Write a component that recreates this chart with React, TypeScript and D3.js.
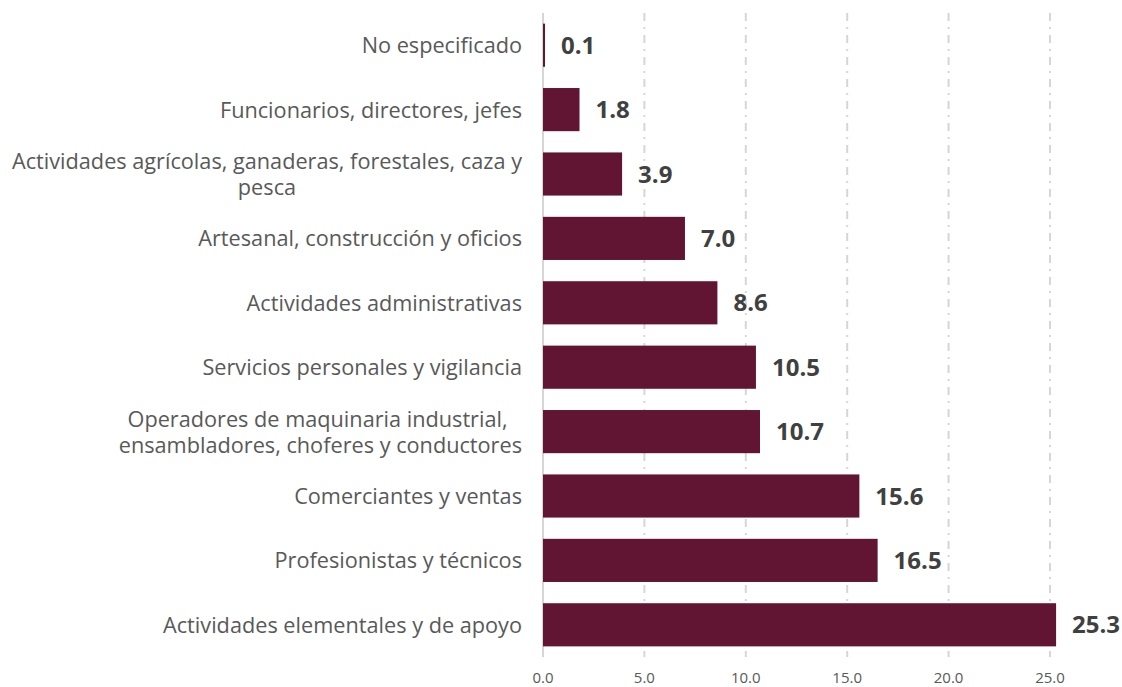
import React, { useEffect, useRef } from 'react';
import * as d3 from 'd3';

// occupation groups, top to bottom (line breaks as in the original)
const categories = [
  'No especificado',
  'Funcionarios, directores, jefes',
  'Actividades agrícolas, ganaderas, forestales, caza y\npesca',
  'Artesanal, construcción y oficios',
  'Actividades administrativas',
  'Servicios personales y vigilancia',
  'Operadores de maquinaria industrial, \nensambladores, choferes y conductores',
  'Comerciantes y ventas',
  'Profesionistas y técnicos',
  'Actividades elementales y de apoyo',
];
const values = [0.1, 1.8, 3.9, 7.0, 8.6, 10.5, 10.7, 15.6, 16.5, 25.3];
const xTicks = [0, 5, 10, 15, 20, 25];

const WIDTH = 1122;
const HEIGHT = 687;
const FONT = '"Open Sans", "Noto Sans", sans-serif';

const App = () => {
  const svgRef = useRef<SVGSVGElement>(null);

  useEffect(() => {
    const svg = d3.select(svgRef.current);
    svg.selectAll('*').remove();

    const x = d3.scaleLinear().domain([0, 25]).range([543, 1050]);
    const y = d3.scaleBand<string>()
      .domain(categories)
      .range([13, 657])
      .paddingInner(0.33)
      .paddingOuter(0.165);

    const data = categories.map((c, i) => ({ c, v: values[i] }));

    // dash-dot grid
    svg.append('g')
      .selectAll('line')
      .data(xTicks.filter(t => t > 0))
      .join('line')
      .attr('x1', d => x(d))
      .attr('x2', d => x(d))
      .attr('y1', 13)
      .attr('y2', 657)
      .attr('stroke', '#d6d6d6')
      .attr('stroke-width', 2)
      .attr('stroke-dasharray', '8,6,2,6');

    // zero line
    svg.append('line')
      .attr('x1', x(0))
      .attr('x2', x(0))
      .attr('y1', 13)
      .attr('y2', 657)
      .attr('stroke', '#d6d6d6')
      .attr('stroke-width', 2);

    svg.append('g')
      .selectAll('rect')
      .data(data)
      .join('rect')
      .attr('x', x(0))
      .attr('y', d => y(d.c)!)
      .attr('width', d => x(d.v) - x(0))
      .attr('height', y.bandwidth())
      .attr('fill', '#621532');

    // value labels
    svg.append('g')
      .selectAll('text')
      .data(data)
      .join('text')
      .attr('x', d => x(d.v) + 16)
      .attr('y', d => y(d.c)! + y.bandwidth() / 2 + 8.6)
      .attr('font-family', FONT)
      .attr('font-size', 24)
      .attr('font-weight', 700)
      .attr('fill', '#404040')
      .text(d => d.v.toFixed(1));

    // category labels
    const right = 522;
    const lineH = 26;
    data.forEach(d => {
      const lines = d.c.split('\n');
      const cy = y(d.c)! + y.bandwidth() / 2;
      const t = svg.append('text')
        .attr('font-family', FONT)
        .attr('font-size', 21.7)
        .attr('fill', '#595959');
      const spans = lines.map((ln, i) =>
        t.append('tspan')
          .attr('y', cy + 8 + (i - (lines.length - 1) / 2) * lineH)
          .text(ln)
      );
      if (lines.length === 1) {
        t.attr('text-anchor', 'end');
        spans[0].attr('x', right);
      } else {
        const w = d3.max(spans, s => (s.node() as SVGTSpanElement).getComputedTextLength()) || 0;
        t.attr('text-anchor', 'middle');
        spans.forEach(s => s.attr('x', right - w / 2));
      }
    });

    // x tick labels
    svg.append('g')
      .selectAll('text')
      .data(xTicks)
      .join('text')
      .attr('x', d => x(d))
      .attr('y', 683)
      .attr('text-anchor', 'middle')
      .attr('font-family', FONT)
      .attr('font-size', 15)
      .attr('fill', '#595959')
      .text(d => d3.format('.1f')(d));
  }, []);

  return (
    <svg
      ref={svgRef}
      width={WIDTH}
      height={HEIGHT}
      style={{ position: 'absolute', left: 0, top: 0, display: 'block', background: '#fff' }}
    />
  );
};

export default App;
